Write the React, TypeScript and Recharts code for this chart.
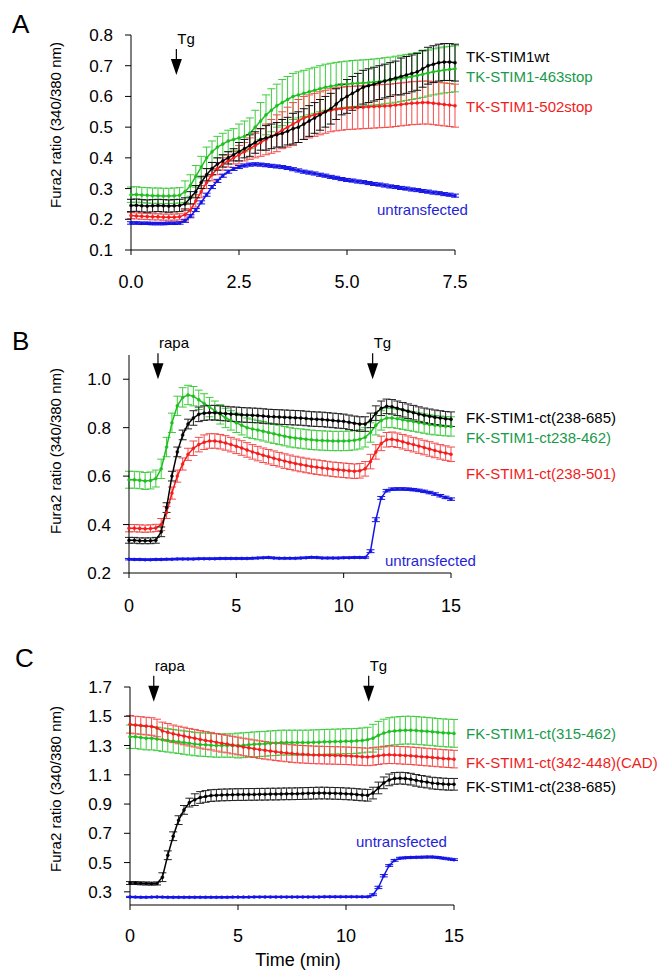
import React from 'react';
import { LineChart, Line, XAxis, YAxis, ErrorBar, ReferenceDot } from 'recharts';

const FONT = '"Liberation Sans", Arial, Helvetica, sans-serif';

// ---------- Panel A (0-7.5 min) ----------
const tA = [0,0.125,0.25,0.375,0.5,0.625,0.75,0.875,1,1.125,1.25,1.375,1.5,1.625,1.75,1.875,2,2.125,2.25,2.375,2.5,2.625,2.75,2.875,3,3.125,3.25,3.375,3.5,3.625,3.75,3.875,4,4.125,4.25,4.375,4.5,4.625,4.75,4.875,5,5.125,5.25,5.375,5.5,5.625,5.75,5.875,6,6.125,6.25,6.375,6.5,6.625,6.75,6.875,7,7.125,7.25,7.375,7.5];
const wtA = [.245,.246,.244,.243,.244,.245,.244,.243,.244,.245,.25,.27,.29,.32,.345,.365,.38,.39,.40,.41,.42,.43,.44,.45,.46,.465,.47,.475,.48,.487,.495,.50,.51,.52,.53,.54,.55,.56,.575,.59,.60,.61,.62,.63,.635,.64,.645,.65,.655,.66,.665,.67,.675,.68,.69,.70,.705,.71,.712,.712,.71];
const wtErrA = [.02,.02,.02,.02,.02,.02,.02,.02,.02,.02,.02,.02,.02,.02,.02,.02,.02,.02,.02,.02,.03,.03,.035,.035,.035,.04,.04,.04,.045,.045,.05,.05,.05,.05,.05,.05,.05,.05,.05,.05,.055,.055,.055,.055,.055,.055,.055,.055,.055,.055,.06,.06,.06,.06,.06,.06,.06,.06,.06,.06,.06];
const s463A = [.28,.281,.279,.278,.277,.277,.276,.276,.277,.278,.29,.31,.34,.37,.40,.42,.435,.445,.455,.46,.465,.47,.48,.50,.52,.54,.555,.57,.58,.59,.60,.605,.61,.615,.62,.625,.63,.633,.636,.638,.64,.642,.643,.644,.645,.647,.649,.651,.653,.656,.659,.662,.665,.668,.672,.676,.68,.683,.686,.688,.69];
const s463ErrA = [.025,.025,.025,.025,.025,.025,.025,.025,.025,.025,.035,.035,.035,.035,.035,.035,.035,.035,.035,.035,.045,.05,.05,.055,.06,.065,.07,.07,.075,.075,.075,.075,.075,.075,.075,.075,.075,.075,.075,.075,.075,.075,.075,.075,.075,.075,.075,.075,.075,.075,.075,.075,.075,.075,.075,.075,.075,.075,.075,.075,.075];
const s502A = [.212,.211,.21,.209,.208,.208,.207,.207,.207,.208,.215,.23,.26,.29,.32,.345,.365,.38,.39,.40,.41,.42,.43,.44,.45,.46,.47,.48,.49,.50,.51,.52,.53,.535,.54,.545,.55,.555,.558,.56,.562,.563,.564,.565,.566,.567,.568,.569,.57,.572,.574,.576,.578,.579,.58,.58,.578,.576,.574,.572,.57];
const s502ErrA = [.01,.01,.01,.01,.01,.01,.01,.01,.01,.01,.02,.02,.02,.02,.02,.02,.02,.02,.02,.02,.03,.03,.035,.04,.045,.05,.055,.06,.06,.065,.07,.07,.07,.07,.07,.07,.07,.07,.07,.07,.07,.07,.07,.07,.07,.07,.07,.07,.07,.07,.07,.07,.07,.07,.07,.07,.07,.07,.07,.07,.07];
const untA = [.188,.188,.187,.187,.186,.186,.186,.187,.187,.188,.195,.21,.23,.255,.28,.305,.325,.342,.355,.364,.37,.375,.378,.379,.378,.376,.374,.372,.37,.367,.363,.359,.355,.352,.349,.345,.342,.338,.335,.331,.328,.326,.323,.321,.318,.315,.313,.31,.307,.305,.302,.3,.297,.295,.292,.29,.287,.285,.282,.28,.277];
const untErrA = [.004,.004,.004,.004,.004,.004,.004,.004,.004,.004,.005,.005,.005,.005,.005,.005,.005,.005,.005,.005,.005,.005,.005,.005,.005,.005,.005,.005,.005,.005,.005,.005,.005,.005,.005,.005,.005,.005,.005,.005,.005,.005,.005,.005,.005,.005,.005,.005,.005,.005,.005,.005,.005,.005,.005,.005,.005,.005,.005,.005,.005];
const xTicksA = [0, 2.5, 5, 7.5];
const yTicksA = [0.1, 0.2, 0.3, 0.4, 0.5, 0.6, 0.7, 0.8];
const eventsA = [{ t: 1.05, y: 0.67, label: 'Tg' }];

// ---------- Panel B (0-15 min) ----------
const tB = [0,0.25,0.5,0.75,1,1.25,1.5,1.75,2,2.25,2.5,2.75,3,3.25,3.5,3.75,4,4.25,4.5,4.75,5,5.25,5.5,5.75,6,6.25,6.5,6.75,7,7.25,7.5,7.75,8,8.25,8.5,8.75,9,9.25,9.5,9.75,10,10.25,10.5,10.75,11,11.25,11.5,11.75,12,12.25,12.5,12.75,13,13.25,13.5,13.75,14,14.25,14.5,14.75,15];
const ct685B = [.335,.335,.333,.333,.333,.335,.37,.47,.60,.70,.77,.815,.84,.855,.86,.862,.862,.86,.858,.856,.855,.853,.852,.851,.85,.848,.846,.845,.844,.843,.842,.841,.84,.838,.836,.835,.834,.832,.83,.828,.826,.822,.818,.815,.815,.83,.86,.88,.888,.886,.88,.874,.868,.862,.856,.851,.847,.843,.84,.837,.835];
const ct685ErrB = [.012,.012,.012,.012,.012,.012,.02,.02,.02,.02,.02,.02,.03,.03,.03,.03,.03,.03,.03,.03,.03,.03,.03,.03,.03,.03,.03,.03,.03,.03,.03,.03,.03,.03,.03,.03,.03,.03,.03,.03,.03,.03,.03,.03,.03,.03,.03,.03,.03,.03,.03,.03,.03,.03,.03,.03,.03,.03,.03,.03,.03];
const ct462B = [.585,.585,.583,.58,.582,.59,.63,.72,.82,.89,.925,.935,.93,.915,.90,.885,.87,.855,.84,.83,.82,.81,.80,.795,.79,.785,.78,.775,.77,.765,.76,.757,.755,.752,.75,.748,.747,.746,.745,.745,.745,.746,.748,.752,.76,.78,.81,.83,.84,.84,.837,.833,.829,.825,.821,.817,.813,.81,.808,.806,.805];
const ct462ErrB = [.035,.035,.035,.035,.035,.035,.04,.04,.04,.04,.04,.04,.04,.04,.04,.04,.04,.04,.04,.04,.04,.04,.04,.04,.04,.04,.04,.04,.04,.04,.04,.04,.04,.04,.04,.04,.04,.04,.04,.04,.04,.04,.04,.04,.04,.04,.04,.04,.04,.04,.04,.04,.04,.04,.04,.04,.04,.04,.04,.04,.04];
const ct501B = [.385,.385,.384,.383,.384,.386,.40,.45,.53,.60,.65,.69,.715,.73,.74,.745,.745,.742,.737,.73,.723,.716,.708,.70,.693,.686,.68,.674,.668,.662,.657,.652,.648,.644,.64,.637,.634,.631,.628,.626,.624,.622,.62,.622,.63,.66,.70,.735,.75,.752,.748,.742,.736,.73,.724,.718,.712,.706,.70,.695,.69];
const ct501ErrB = [.015,.015,.015,.015,.015,.015,.025,.025,.025,.025,.025,.025,.03,.03,.03,.03,.03,.03,.03,.03,.03,.03,.03,.03,.03,.03,.03,.03,.03,.03,.03,.03,.03,.03,.03,.03,.03,.03,.03,.03,.03,.03,.03,.03,.03,.03,.03,.03,.03,.03,.03,.03,.03,.03,.03,.03,.03,.03,.03,.03,.03];
const untB = [.257,.256,.256,.255,.255,.256,.256,.257,.257,.258,.258,.258,.258,.259,.259,.259,.259,.26,.26,.26,.26,.26,.26,.261,.262,.263,.264,.262,.261,.261,.261,.261,.262,.263,.265,.264,.262,.262,.262,.262,.263,.263,.264,.264,.264,.29,.42,.51,.54,.546,.547,.547,.546,.544,.541,.537,.532,.526,.519,.512,.505];
const untErrB = [.003,.003,.003,.003,.003,.003,.003,.003,.003,.003,.003,.003,.003,.003,.003,.003,.003,.003,.003,.003,.003,.003,.003,.003,.003,.003,.003,.003,.003,.003,.003,.003,.003,.003,.003,.003,.003,.003,.003,.003,.003,.003,.003,.003,.003,.006,.008,.006,.005,.005,.005,.005,.005,.005,.005,.005,.005,.005,.005,.005,.005];
const xTicksB = [0, 5, 10, 15];
const yTicksB = [0.2, 0.4, 0.6, 0.8, 1.0];
const eventsB = [{ t: 1.35, y: 1.0, label: 'rapa' }, { t: 11.35, y: 1.0, label: 'Tg' }];

// ---------- Panel C (0-15 min) ----------
const tC = [0,0.25,0.5,0.75,1,1.25,1.5,1.75,2,2.25,2.5,2.75,3,3.25,3.5,3.75,4,4.25,4.5,4.75,5,5.25,5.5,5.75,6,6.25,6.5,6.75,7,7.25,7.5,7.75,8,8.25,8.5,8.75,9,9.25,9.5,9.75,10,10.25,10.5,10.75,11,11.25,11.5,11.75,12,12.25,12.5,12.75,13,13.25,13.5,13.75,14,14.25,14.5,14.75,15];
const ct315C = [1.36,1.36,1.355,1.35,1.35,1.345,1.34,1.335,1.33,1.325,1.32,1.315,1.31,1.307,1.305,1.302,1.30,1.30,1.30,1.30,1.30,1.302,1.305,1.308,1.31,1.312,1.315,1.317,1.32,1.32,1.32,1.32,1.32,1.32,1.322,1.323,1.325,1.326,1.327,1.328,1.33,1.33,1.332,1.335,1.34,1.35,1.37,1.385,1.395,1.40,1.403,1.405,1.405,1.403,1.40,1.397,1.394,1.39,1.387,1.385,1.383];
const ct315ErrC = [.08,.08,.08,.08,.08,.08,.08,.08,.08,.08,.08,.08,.08,.08,.08,.08,.08,.08,.08,.08,.085,.085,.085,.085,.085,.085,.085,.085,.085,.085,.085,.085,.085,.085,.085,.085,.085,.085,.085,.085,.085,.085,.085,.085,.085,.095,.095,.095,.095,.095,.095,.095,.095,.095,.095,.095,.095,.095,.095,.095,.095];
const ct342C = [1.445,1.44,1.437,1.433,1.43,1.42,1.40,1.39,1.38,1.372,1.365,1.357,1.35,1.342,1.335,1.33,1.322,1.315,1.31,1.303,1.297,1.29,1.284,1.278,1.272,1.267,1.262,1.257,1.253,1.249,1.245,1.242,1.24,1.238,1.236,1.235,1.234,1.233,1.232,1.231,1.23,1.228,1.226,1.224,1.222,1.225,1.23,1.235,1.237,1.236,1.234,1.232,1.23,1.227,1.224,1.221,1.218,1.215,1.212,1.21,1.207];
const ct342ErrC = [.06,.06,.06,.06,.06,.06,.06,.06,.06,.06,.06,.06,.06,.06,.06,.06,.06,.06,.06,.06,.06,.06,.06,.06,.06,.06,.06,.06,.06,.06,.06,.06,.06,.06,.06,.06,.06,.06,.06,.06,.06,.06,.06,.06,.06,.06,.06,.06,.06,.06,.06,.06,.06,.06,.06,.06,.06,.06,.06,.06,.06];
const ct685C = [.36,.36,.358,.357,.356,.357,.40,.55,.68,.79,.86,.91,.93,.945,.952,.958,.96,.962,.963,.964,.965,.965,.966,.966,.967,.967,.968,.968,.969,.97,.97,.971,.972,.973,.974,.975,.975,.974,.973,.972,.97,.968,.965,.962,.96,.975,1.01,1.045,1.065,1.075,1.077,1.075,1.07,1.062,1.055,1.05,1.043,1.04,1.037,1.035,1.035];
const ct685ErrC = [.01,.01,.01,.01,.01,.01,.03,.03,.03,.03,.03,.03,.04,.04,.04,.04,.04,.04,.04,.04,.04,.04,.04,.04,.04,.04,.04,.04,.04,.04,.04,.04,.04,.04,.04,.04,.04,.04,.04,.04,.04,.04,.04,.04,.04,.04,.04,.04,.04,.04,.04,.04,.04,.04,.04,.04,.04,.04,.04,.04,.04];
const untC = [.265,.264,.263,.263,.264,.265,.264,.263,.263,.263,.263,.263,.263,.263,.263,.263,.263,.263,.263,.264,.264,.264,.264,.265,.265,.265,.265,.265,.265,.265,.265,.265,.265,.265,.265,.265,.266,.266,.266,.266,.266,.266,.266,.266,.266,.28,.33,.41,.48,.515,.53,.533,.535,.536,.537,.538,.538,.535,.53,.525,.52];
const untErrC = [.004,.004,.004,.004,.004,.004,.004,.004,.004,.004,.004,.004,.004,.004,.004,.004,.004,.004,.004,.004,.004,.004,.004,.004,.004,.004,.004,.004,.004,.004,.004,.004,.004,.004,.004,.004,.004,.004,.004,.004,.004,.004,.004,.004,.004,.006,.008,.008,.006,.006,.006,.006,.006,.006,.006,.006,.006,.006,.006,.006,.006];
const xTicksC = [0, 5, 10, 15];
const yTicksC = [0.3, 0.5, 0.7, 0.9, 1.1, 1.3, 1.5, 1.7];
const eventsC = [{ t: 1.1, y: 1.6, label: 'rapa' }, { t: 11.05, y: 1.6, label: 'Tg' }];

const GREEN = '#20bf20';
const GREEN_BAR = '#3fcc3f';
const RED = '#f41c1c';
const RED_BAR = '#f54a4a';
const BLUE = '#1515e6';
const GREEN_TXT = '#199a4a';
const RED_TXT = '#ef1d22';
const BLUE_TXT = '#1f1fd6';

type Series = { key: string; mean: number[]; err: number[]; color: string; bar: string };

const build = (times: number[], series: Series[]) =>
  times.map((t, i) => {
    const row: any = { t };
    series.forEach((s) => {
      row[s.key] = s.mean[i];
      row[s.key + 'Err'] = s.err[i];
    });
    return row;
  });

const makeArrow = (label: string) => (props: any) => {
  const { cx, cy } = props;
  return (
    <g>
      <line x1={cx} y1={cy - 26} x2={cx} y2={cy - 14} stroke="#000" strokeWidth={1.2} />
      <polygon points={`${cx - 5.5},${cy - 16} ${cx + 5.5},${cy - 16} ${cx},${cy}`} fill="#000" />
      <text x={cx + 1} y={cy - 31} fontSize={15} fontFamily={FONT} fill="#000">
        {label}
      </text>
    </g>
  );
};

function Panel(p: {
  top: number;
  height: number;
  margin: any;
  yWidth: number;
  xHeight: number;
  xDomain: number[];
  xTicks: number[];
  xFmt: (v: number) => string;
  yDomain: number[];
  yTicks: number[];
  xTickMargin: number;
  series: Series[];
  times: number[];
  events: { t: number; y: number; label: string }[];
}) {
  const rows = build(p.times, p.series);
  return (
    <div style={{ position: 'absolute', left: 0, top: p.top }}>
      <LineChart width={672} height={p.height} data={rows} margin={p.margin}>
        <XAxis
          dataKey="t"
          type="number"
          domain={p.xDomain}
          ticks={p.xTicks}
          interval={0}
          height={p.xHeight}
          tickSize={5}
          tickMargin={p.xTickMargin}
          tickFormatter={p.xFmt}
          axisLine={{ stroke: '#000' }}
          tickLine={{ stroke: '#000' }}
          tick={{ fill: '#000', fontSize: 18, fontFamily: FONT }}
        />
        <YAxis
          type="number"
          domain={p.yDomain}
          ticks={p.yTicks}
          interval={0}
          allowDataOverflow
          width={p.yWidth}
          tickSize={6}
          tickMargin={12}
          tickFormatter={(v: number) => v.toFixed(1)}
          axisLine={{ stroke: '#000' }}
          tickLine={{ stroke: '#000' }}
          tick={{ fill: '#000', fontSize: 17, fontFamily: FONT }}
        />
        {p.series.map((s) => (
          <Line
            key={s.key}
            dataKey={s.key}
            stroke={s.color}
            strokeWidth={1.5}
            dot={{ r: 1.5, fill: s.color, stroke: s.color, strokeWidth: 0.5 }}
            isAnimationActive={false}
          >
            <ErrorBar
              dataKey={s.key + 'Err'}
              direction="y"
              width={4}
              stroke={s.bar}
              strokeWidth={1}
              isAnimationActive={false}
            />
          </Line>
        ))}
        {p.events.map((e) => (
          <ReferenceDot
            key={e.label}
            x={e.t}
            y={e.y}
            r={0}
            ifOverflow="visible"
            shape={makeArrow(e.label)}
          />
        ))}
      </LineChart>
    </div>
  );
}

const seriesA: Series[] = [
  { key: 's463', mean: s463A, err: s463ErrA, color: GREEN, bar: GREEN_BAR },
  { key: 's502', mean: s502A, err: s502ErrA, color: RED, bar: RED_BAR },
  { key: 'wt', mean: wtA, err: wtErrA, color: '#000', bar: '#111' },
  { key: 'unt', mean: untA, err: untErrA, color: BLUE, bar: BLUE },
];
const seriesB: Series[] = [
  { key: 'c462', mean: ct462B, err: ct462ErrB, color: GREEN, bar: GREEN_BAR },
  { key: 'c501', mean: ct501B, err: ct501ErrB, color: RED, bar: RED_BAR },
  { key: 'c685', mean: ct685B, err: ct685ErrB, color: '#000', bar: '#222' },
  { key: 'unt', mean: untB, err: untErrB, color: BLUE, bar: BLUE },
];
const seriesC: Series[] = [
  { key: 'c315', mean: ct315C, err: ct315ErrC, color: GREEN, bar: GREEN_BAR },
  { key: 'c342', mean: ct342C, err: ct342ErrC, color: RED, bar: RED_BAR },
  { key: 'c685', mean: ct685C, err: ct685ErrC, color: '#000', bar: '#222' },
  { key: 'unt', mean: untC, err: untErrC, color: BLUE, bar: BLUE },
];

const YTITLE = 'Fura2 ratio (340/380 nm)';

export default function App() {
  const lbl = { fontSize: 15, fontFamily: FONT } as const;
  return (
    <div style={{ position: 'absolute', left: 0, top: 0, width: 672, height: 979, background: '#fff' }}>
      <Panel
        top={0}
        height={310}
        margin={{ top: 35, right: 217, bottom: 0, left: 0 }}
        yWidth={131}
        xHeight={60}
        xDomain={[0, 7.5]}
        xTicks={xTicksA}
        xFmt={(v) => v.toFixed(1)}
        yDomain={[0.1, 0.8]}
        yTicks={yTicksA}
        xTickMargin={20}
        series={seriesA}
        times={tA}
        events={eventsA}
      />
      <Panel
        top={320}
        height={310}
        margin={{ top: 35, right: 221, bottom: 0, left: 0 }}
        yWidth={129}
        xHeight={57}
        xDomain={[0, 15]}
        xTicks={xTicksB}
        xFmt={(v) => String(v)}
        yDomain={[0.2, 1.1]}
        yTicks={yTicksB}
        xTickMargin={21}
        series={seriesB}
        times={tB}
        events={eventsB}
      />
      <Panel
        top={640}
        height={339}
        margin={{ top: 47, right: 218, bottom: 0, left: 0 }}
        yWidth={130}
        xHeight={74}
        xDomain={[0, 15]}
        xTicks={xTicksC}
        xFmt={(v) => String(v)}
        yDomain={[0.21, 1.7]}
        yTicks={yTicksC}
        xTickMargin={19}
        series={seriesC}
        times={tC}
        events={eventsC}
      />
      <svg
        width={672}
        height={979}
        style={{ position: 'absolute', left: 0, top: 0, pointerEvents: 'none' }}
      >
        <text x={12} y={33} fontSize={26} fontFamily={FONT}>A</text>
        <text x={12} y={350} fontSize={26} fontFamily={FONT}>B</text>
        <text x={15} y={667} fontSize={26} fontFamily={FONT}>C</text>

        <text transform="translate(61,125) rotate(-90)" textAnchor="middle" {...lbl}>{YTITLE}</text>
        <text transform="translate(61,451) rotate(-90)" textAnchor="middle" {...lbl}>{YTITLE}</text>
        <text transform="translate(61,789) rotate(-90)" textAnchor="middle" {...lbl}>{YTITLE}</text>

        <text x={466} y={62} fill="#000" {...lbl}>TK-STIM1wt</text>
        <text x={466} y={82} fill={GREEN_TXT} {...lbl}>TK-STIM1-463stop</text>
        <text x={466} y={112} fill={RED_TXT} {...lbl}>TK-STIM1-502stop</text>
        <text x={377} y={215} fill={BLUE_TXT} {...lbl}>untransfected</text>

        <text x={466} y={423} fill="#000" {...lbl}>FK-STIM1-ct(238-685)</text>
        <text x={466} y={443} fill={GREEN_TXT} {...lbl}>FK-STIM1-ct238-462)</text>
        <text x={466} y={479} fill={RED_TXT} {...lbl}>FK-STIM1-ct(238-501)</text>
        <text x={385} y={566} fill={BLUE_TXT} {...lbl}>untransfected</text>

        <text x={466} y={739} fill={GREEN_TXT} {...lbl}>FK-STIM1-ct(315-462)</text>
        <text x={466} y={768} fill={RED_TXT} {...lbl}>FK-STIM1-ct(342-448)(CAD)</text>
        <text x={466} y={792} fill="#000" {...lbl}>FK-STIM1-ct(238-685)</text>
        <text x={356} y={847} fill={BLUE_TXT} {...lbl}>untransfected</text>

        <text x={298} y={966} textAnchor="middle" fontSize={18} fontFamily={FONT}>Time (min)</text>
      </svg>
    </div>
  );
}
